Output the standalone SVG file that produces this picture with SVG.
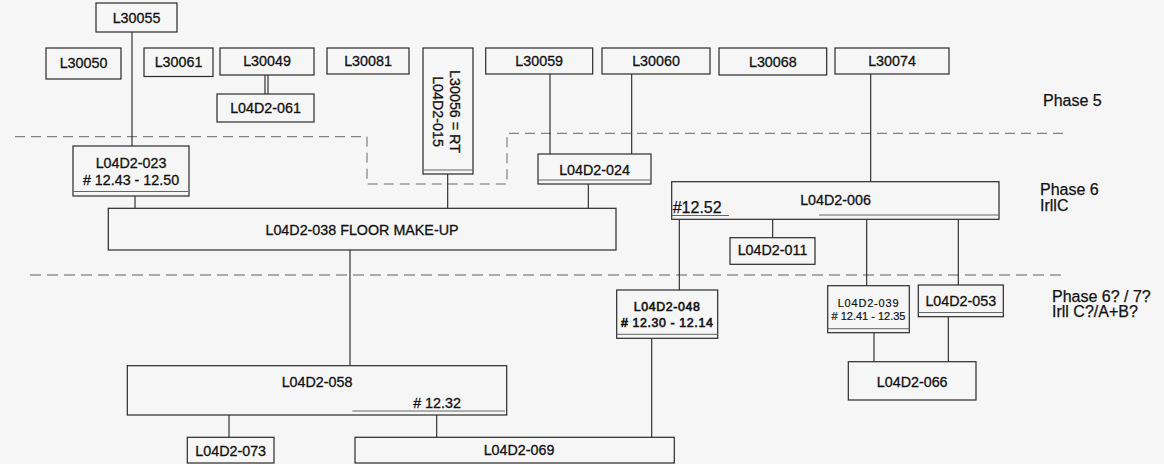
<svg xmlns="http://www.w3.org/2000/svg" width="1164" height="464" viewBox="0 0 1164 464">
<style>
.bg{fill:#f6f6f6}
.box{fill:#f6f6f6;stroke:#2a2a2a;stroke-width:1.2}
.inner{stroke:#666;stroke-width:1;fill:none}
.t{font-family:"Liberation Sans",Arial,sans-serif;font-size:14.3px;fill:#111;stroke:#111;stroke-width:0.3;text-anchor:middle}
.tl{font-family:"Liberation Sans",Arial,sans-serif;font-size:16px;fill:#111;stroke:#111;stroke-width:0.25}
.small{font-size:11px;stroke-width:0.2}
.bold{font-size:12.4px;stroke-width:0.6}
.con{stroke:#222;stroke-width:1.1;fill:none}
.d1{stroke:#666;stroke-width:1;fill:none;stroke-dasharray:10 6}
.d2{stroke:#aaa;stroke-width:2;fill:none;stroke-dasharray:11 6}
</style>
<rect class="bg" x="0" y="0" width="1164" height="464"/>

<g id="phase-lines">
<polyline class="d1" points="15,136.7 367,136.7 367,184 507,184 507,133.3 1069,133.3"/>
<line class="d2" x1="30" y1="275" x2="1065" y2="275"/>
</g>

<g id="connectors">
<line class="con" x1="132" y1="32" x2="132" y2="146"/>
<line class="con" x1="265" y1="75" x2="265" y2="94"/>
<line class="con" x1="268" y1="75" x2="268" y2="94"/>
<line class="con" x1="135" y1="196" x2="135" y2="208"/>
<line class="con" x1="447.7" y1="174" x2="447.7" y2="208"/>
<line class="con" x1="550" y1="74" x2="550" y2="154"/>
<line class="con" x1="631.7" y1="74" x2="631.7" y2="154"/>
<line class="con" x1="588.3" y1="184" x2="588.3" y2="208"/>
<line class="con" x1="870.7" y1="74" x2="870.7" y2="181.7"/>
<line class="con" x1="350" y1="250" x2="350" y2="365.7"/>
<line class="con" x1="679.3" y1="219.3" x2="679.3" y2="290"/>
<line class="con" x1="772.7" y1="219.3" x2="772.7" y2="237.7"/>
<line class="con" x1="866.7" y1="219.3" x2="866.7" y2="285.7"/>
<line class="con" x1="958.3" y1="219.3" x2="958.3" y2="285"/>
<line class="con" x1="651.7" y1="338.3" x2="651.7" y2="437.3"/>
<line class="con" x1="874" y1="332.7" x2="874" y2="361.7"/>
<line class="con" x1="948.3" y1="316.7" x2="948.3" y2="361.7"/>
<line class="con" x1="229" y1="415" x2="229" y2="437.3"/>
<line class="con" x1="436.7" y1="415" x2="436.7" y2="437.3"/>
</g>

<g id="L30055"><rect class="box" x="96" y="3" width="81" height="29"/><text class="t" x="136.5" y="22.5">L30055</text></g>
<g id="L30050"><rect class="box" x="46" y="48" width="75" height="31"/><text class="t" x="83.5" y="68.3">L30050</text></g>
<g id="L30061"><rect class="box" x="144" y="48" width="69" height="28.5"/><text class="t" x="178.5" y="66.7">L30061</text></g>
<g id="L30049"><rect class="box" x="220" y="48" width="94" height="27"/><text class="t" x="267" y="66">L30049</text></g>
<g id="L04D2-061"><rect class="box" x="217" y="94" width="97" height="28"/><text class="t" x="265.5" y="113.3">L04D2-061</text></g>
<g id="L30081"><rect class="box" x="327" y="48" width="82" height="26"/><text class="t" x="368" y="66">L30081</text></g>
<g id="L30056"><rect class="box" x="423" y="48" width="50" height="126"/><line class="inner" x1="423" y1="170" x2="473" y2="170"/>
<text class="t" transform="translate(450,111.5) rotate(90)" x="0" y="0">L30056 = RT</text>
<text class="t" transform="translate(432.7,111.5) rotate(90)" x="0" y="0">L04D2-015</text></g>
<g id="L30059"><rect class="box" x="485.7" y="48" width="107" height="26"/><text class="t" x="539.2" y="66">L30059</text></g>
<g id="L30060"><rect class="box" x="602" y="48" width="108" height="26"/><text class="t" x="656" y="66">L30060</text></g>
<g id="L30068"><rect class="box" x="719" y="48" width="107.7" height="27"/><text class="t" x="772.8" y="66.7">L30068</text></g>
<g id="L30074"><rect class="box" x="835" y="48" width="114" height="26"/><text class="t" x="892" y="65.7">L30074</text></g>

<g id="L04D2-023"><rect class="box" x="73" y="146" width="116" height="50"/><line class="inner" x1="73" y1="191.5" x2="189" y2="191.5"/>
<text class="t" x="131" y="167.7">L04D2-023</text><text class="t" x="131" y="185">#&#160;12.43 - 12.50</text></g>
<g id="L04D2-024"><rect class="box" x="538" y="154" width="113" height="30"/><line class="inner" x1="538" y1="180" x2="651" y2="180"/><text class="t" x="594.5" y="175">L04D2-024</text></g>
<g id="L04D2-038"><rect class="box" x="108.3" y="208.3" width="507.7" height="41.7"/><text class="t" x="362" y="235">L04D2-038 FLOOR MAKE-UP</text></g>
<g id="L04D2-006"><rect class="box" x="671.7" y="181.7" width="327.3" height="37.6"/>
<line class="inner" x1="672" y1="215.5" x2="729" y2="215.5"/><line class="inner" x1="819" y1="215" x2="999" y2="215"/>
<text class="t" x="835.5" y="205">L04D2-006</text><text class="tl" x="672.7" y="213.3">#12.52</text></g>
<g id="L04D2-011"><rect class="box" x="730" y="237.7" width="85" height="26.6"/><text class="t" x="772.5" y="255">L04D2-011</text></g>

<g id="L04D2-048"><rect class="box" x="616.7" y="290" width="101" height="48.3"/><line class="inner" x1="616.7" y1="334.3" x2="717.7" y2="334.3"/>
<text class="t bold" x="667.2" y="311" letter-spacing="0.6">L04D2-048</text><text class="t bold" x="667.2" y="326.7" letter-spacing="0.6">#&#160;12.30 - 12.14</text></g>
<g id="L04D2-039"><rect class="box" x="827.7" y="285.7" width="81.6" height="47"/><line class="inner" x1="827.7" y1="328.7" x2="909.3" y2="328.7"/>
<text class="t small" x="868.5" y="306.7" letter-spacing="0.8">L04D2-039</text><text class="t small" x="868.5" y="320">#&#160;12.41 - 12.35</text></g>
<g id="L04D2-053"><rect class="box" x="918.3" y="285" width="85" height="31.7"/><line class="inner" x1="918.3" y1="312.5" x2="1003.3" y2="312.5"/><text class="t" x="960.8" y="306">L04D2-053</text></g>
<g id="L04D2-066"><rect class="box" x="848.3" y="361.7" width="127.7" height="38.3"/><text class="t" x="912.2" y="386.7">L04D2-066</text></g>

<g id="L04D2-058"><rect class="box" x="127.3" y="365.7" width="379.4" height="49.3"/><line class="inner" x1="352.3" y1="411" x2="505" y2="411"/>
<text class="t" x="317" y="386.7">L04D2-058</text><text class="t" x="437" y="408.3">#&#160;12.32</text></g>
<g id="L04D2-073"><rect class="box" x="187.3" y="437.3" width="86.7" height="25.7"/><text class="t" x="230.7" y="455.7">L04D2-073</text></g>
<g id="L04D2-069"><rect class="box" x="355" y="437.3" width="319.3" height="25.7"/><text class="t" x="519" y="455">L04D2-069</text></g>

<g id="phase-labels">
<text class="tl" x="1043" y="105.7">Phase 5</text>
<text class="tl" x="1040" y="195">Phase 6</text>
<text class="tl" x="1040" y="211">IrllC</text>
<text class="tl" x="1052" y="301.7">Phase 6? / 7?</text>
<text class="tl" x="1052" y="316.7">Irll C?/A+B?</text>
</g>
</svg>
